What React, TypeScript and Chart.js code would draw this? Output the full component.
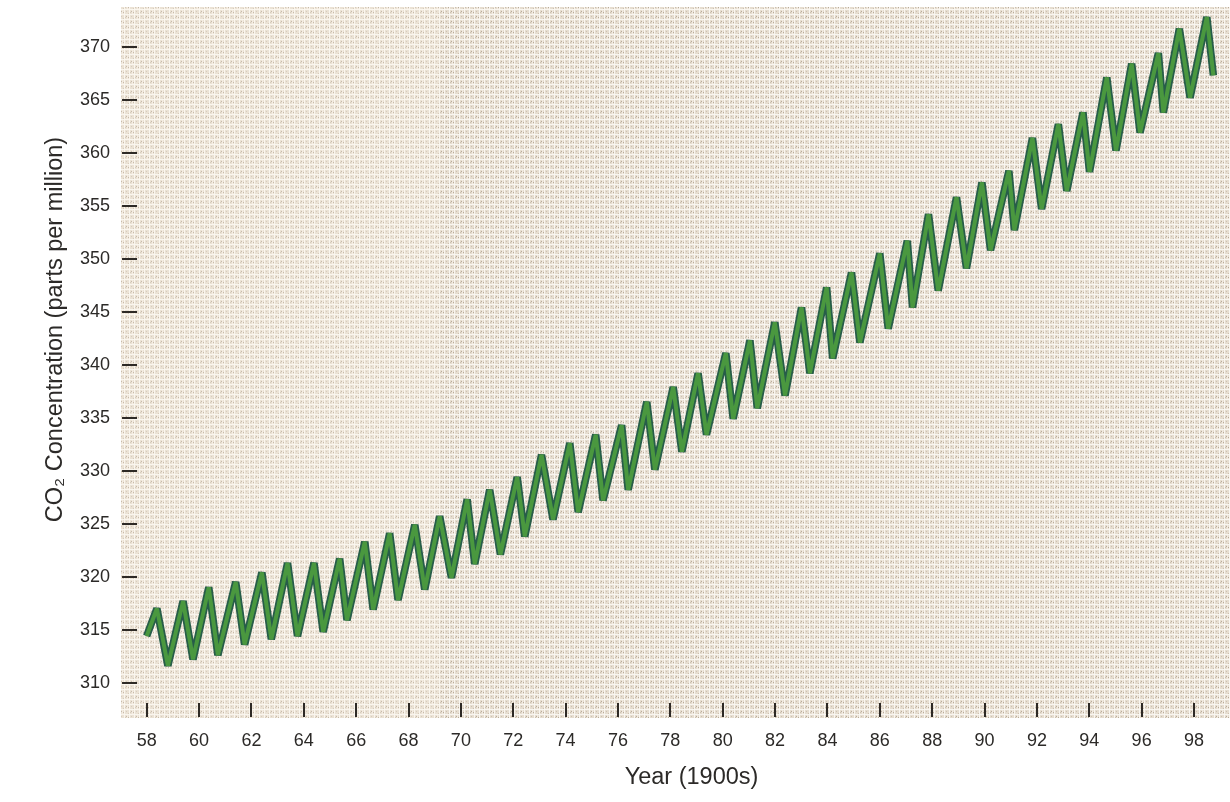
import React, { useEffect, useRef } from "react";
import { Chart, registerables } from "chart.js";

Chart.register(...registerables);

// ---- data ----
const years = [
  58.0, 58.39, 58.81, 59.39, 59.77, 60.37, 60.72, 61.4, 61.74, 62.4, 62.76,
  63.38, 63.76, 64.39, 64.74, 65.37, 65.65, 66.33, 66.65, 67.28, 67.6, 68.24,
  68.62, 69.19, 69.64, 70.24, 70.53, 71.1, 71.51, 72.15, 72.44, 73.08, 73.52,
  74.16, 74.48, 75.15, 75.43, 76.14, 76.39, 77.1, 77.41, 78.11, 78.44, 79.06,
  79.38, 80.12, 80.4, 81.04, 81.32, 81.99, 82.38, 83.01, 83.33, 83.97, 84.2,
  84.92, 85.24, 86.0, 86.32, 87.05, 87.25, 87.86, 88.23, 88.93, 89.31, 89.9,
  90.23, 90.93, 91.14, 91.83, 92.18, 92.82, 93.14, 93.76, 94.01, 94.67, 95.02,
  95.62, 95.94, 96.64, 96.83, 97.44, 97.85, 98.49, 98.74,
];

const ppm = [
  314.4, 317.0, 311.6, 317.7, 312.2, 319.0, 312.6, 319.5, 313.6, 320.4, 314.1,
  321.3, 314.4, 321.3, 314.8, 321.7, 315.9, 323.3, 316.9, 324.1, 317.8, 324.9,
  318.8, 325.7, 319.9, 327.3, 321.2, 328.2, 322.1, 329.4, 323.8, 331.5, 325.4,
  332.6, 326.1, 333.4, 327.2, 334.3, 328.2, 336.5, 330.1, 337.9, 331.8, 339.2,
  333.4, 341.1, 334.9, 342.3, 335.9, 344.0, 337.1, 345.4, 339.2, 347.3, 340.6,
  348.7, 342.1, 350.5, 343.4, 351.7, 345.4, 354.2, 347.0, 355.8, 349.1, 357.2,
  350.8, 358.3, 352.7, 361.4, 354.7, 362.7, 356.4, 363.8, 358.2, 367.1, 360.2,
  368.4, 361.9, 369.4, 363.8, 371.7, 365.2, 372.8, 367.3,
];

const xTickValues = [58, 60, 62, 64, 66, 68, 70, 72, 74, 76, 78, 80, 82, 84, 86, 88, 90, 92, 94, 96, 98];
const yTickValues = [310, 315, 320, 325, 330, 335, 340, 345, 350, 355, 360, 365, 370];

const xRange = [57.02, 99.375];
const yRange = [306.67, 373.75];

const xTitle = "Year (1900s)";
const yTitle = "CO₂ Concentration (parts per million)";

const FONT = "'Liberation Sans', Arial, Helvetica, sans-serif";
const TEXT_COLOR = "#2c2a28";

function makeLinenPattern(ctx: CanvasRenderingContext2D): CanvasPattern | string {
  const c = document.createElement("canvas");
  c.width = 10;
  c.height = 10;
  const g = c.getContext("2d");
  if (!g) return "#e9e0d4";
  g.fillStyle = "#e6ddd0";
  g.fillRect(0, 0, 10, 10);
  // pale weave threads
  g.fillStyle = "rgba(250,247,241,0.95)";
  g.fillRect(0, 4, 10, 1);
  g.fillRect(0, 9, 10, 1);
  g.fillRect(4, 0, 1, 10);
  g.fillRect(9, 0, 1, 10);
  g.fillStyle = "rgba(246,241,233,0.7)";
  g.fillRect(2, 0, 1, 4);
  g.fillRect(7, 5, 1, 4);
  // darker specks / crossings
  g.fillStyle = "rgba(145,128,106,0.55)";
  g.fillRect(1, 1, 1, 1);
  g.fillRect(3, 2, 1, 1);
  g.fillRect(6, 6, 1, 1);
  g.fillRect(8, 7, 1, 1);
  g.fillStyle = "rgba(165,149,127,0.4)";
  g.fillRect(6, 1, 1, 1);
  g.fillRect(8, 3, 1, 1);
  g.fillRect(1, 6, 1, 1);
  g.fillRect(3, 8, 1, 1);
  g.fillRect(0, 2, 1, 1);
  g.fillRect(5, 7, 1, 1);
  return ctx.createPattern(c, "repeat") || "#e9e0d4";
}

const linenBackground = {
  id: "linenBackground",
  beforeDraw(chart: any) {
    const { ctx, chartArea: a, width, height } = chart;
    ctx.save();
    ctx.fillStyle = "#ffffff";
    ctx.fillRect(0, 0, width, height);
    ctx.fillStyle = makeLinenPattern(ctx);
    ctx.fillRect(a.left, a.top, a.right - a.left, a.bottom - a.top);
    // lighter, slightly warmer left panel of the paper
    ctx.fillStyle = "rgba(255,248,232,0.22)";
    ctx.fillRect(a.left, a.top, (a.right - a.left) * 0.288, a.bottom - a.top);
    ctx.restore();
  },
};

const innerTicks = {
  id: "innerTicks",
  beforeDatasetsDraw(chart: any) {
    const { ctx, chartArea: a, scales } = chart;
    ctx.save();
    ctx.strokeStyle = "#2e2a26";
    ctx.lineWidth = 2;
    scales.x.ticks.forEach((t: any) => {
      const x = Math.round(scales.x.getPixelForValue(t.value));
      ctx.beginPath();
      ctx.moveTo(x, a.bottom - 15);
      ctx.lineTo(x, a.bottom - 1);
      ctx.stroke();
    });
    scales.y.ticks.forEach((t: any) => {
      const y = Math.round(scales.y.getPixelForValue(t.value));
      ctx.beginPath();
      ctx.moveTo(a.left + 1, y);
      ctx.lineTo(a.left + 16, y);
      ctx.stroke();
    });
    ctx.restore();
  },
};

const axisTitles = {
  id: "axisTitles",
  afterDraw(chart: any) {
    const { ctx, chartArea: a } = chart;
    ctx.save();
    ctx.fillStyle = TEXT_COLOR;
    ctx.font = `23.5px ${FONT}`;
    ctx.textAlign = "center";
    ctx.textBaseline = "middle";
    ctx.fillText(xTitle, (a.left + a.right) / 2 + 16, a.bottom + 60);
    ctx.translate(a.left - 66, (a.top + a.bottom) / 2 - 33);
    ctx.rotate(-Math.PI / 2);
    ctx.fillText(yTitle, 0, 0);
    ctx.restore();
  },
};

export default function App() {
  const ref = useRef<HTMLCanvasElement | null>(null);

  useEffect(() => {
    if (!ref.current) return;
    const points = years.map((x, i) => ({ x, y: ppm[i] }));
    const chart = new Chart(ref.current, {
      type: "line",
      data: {
        datasets: [
          {
            label: "CO₂",
            data: points,
            borderColor: "#4a983f",
            borderWidth: 4,
            pointRadius: 0,
            tension: 0,
            borderJoinStyle: "bevel",
            order: 0,
          },
          {
            label: "CO₂ outline",
            data: points,
            borderColor: "#275d49",
            borderWidth: 7.5,
            pointRadius: 0,
            tension: 0,
            borderJoinStyle: "bevel",
            order: 1,
          },
        ],
      },
      options: {
        animation: false,
        responsive: false,
        maintainAspectRatio: false,
        layout: { padding: { left: 69, top: 7, right: 0, bottom: 38.4 } },
        plugins: { legend: { display: false }, tooltip: { enabled: false } },
        scales: {
          x: {
            type: "linear",
            min: xRange[0],
            max: xRange[1],
            grid: { display: false, drawTicks: false },
            border: { display: false },
            ticks: {
              padding: 12,
              color: TEXT_COLOR,
              font: { family: FONT, size: 18 },
              maxRotation: 0,
              autoSkip: false,
              callback: (v: any) => String(v),
            },
            afterBuildTicks: (s: any) => {
              s.ticks = xTickValues.map((v) => ({ value: v }));
            },
            afterFit: (s: any) => {
              s.paddingLeft = 0;
              s.paddingRight = 0;
            },
          },
          y: {
            type: "linear",
            min: yRange[0],
            max: yRange[1],
            grid: { display: false, drawTicks: false },
            border: { display: false },
            ticks: {
              padding: 11,
              color: TEXT_COLOR,
              font: { family: FONT, size: 18 },
              autoSkip: false,
              callback: (v: any) => String(v),
            },
            afterBuildTicks: (s: any) => {
              s.ticks = yTickValues.map((v) => ({ value: v }));
            },
            afterFit: (s: any) => {
              s.paddingTop = 0;
              s.paddingBottom = 0;
            },
          },
        },
      },
      plugins: [linenBackground, innerTicks, axisTitles],
    });
    return () => chart.destroy();
  }, []);

  return (
    <div style={{ position: "absolute", left: 0, top: 0, width: 1230, height: 802, background: "#fff" }}>
      <canvas ref={ref} width={1230} height={802} style={{ display: "block" }} />
    </div>
  );
}
